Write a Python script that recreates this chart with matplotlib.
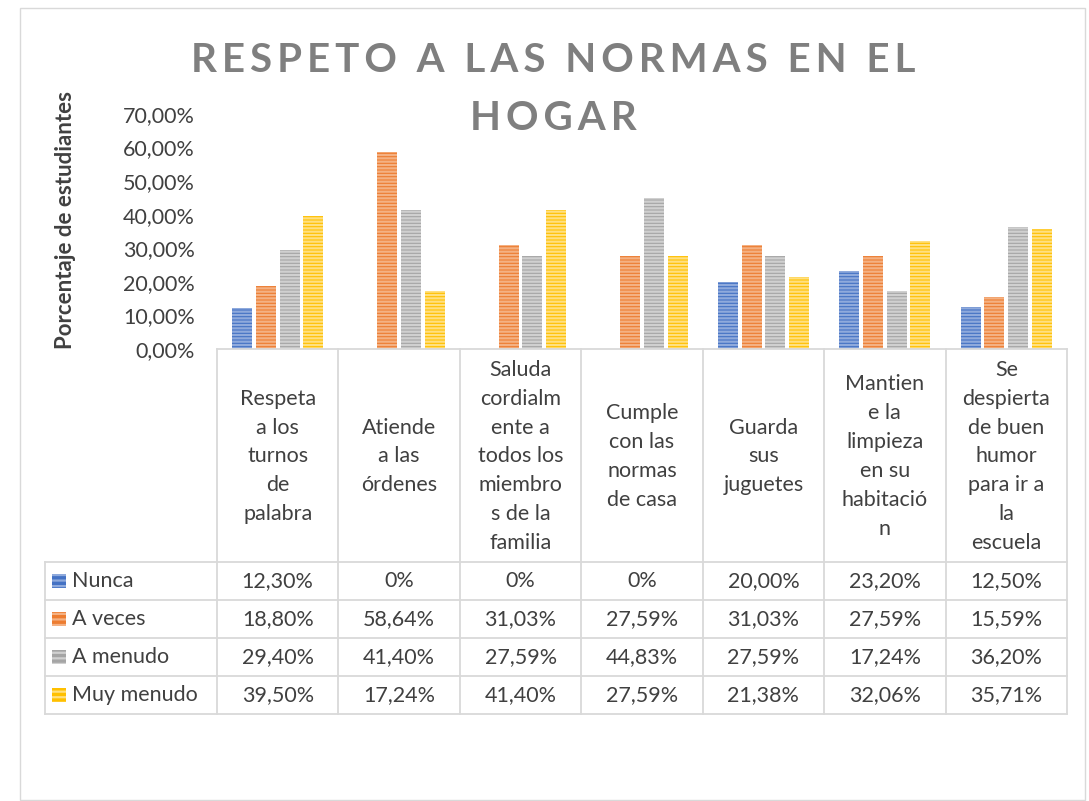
import numpy as np
import matplotlib.pyplot as plt
from matplotlib.patches import Rectangle

plt.rcParams['font.family'] = ['Lato', 'DejaVu Sans']
plt.rcParams['hatch.linewidth'] = 1.6

# datos
categorias = ["Respeta\na los\nturnos\nde\npalabra",
              "Atiende\na las\nórdenes",
              "Saluda\ncordialm\nente a\ntodos los\nmiembro\ns de la\nfamilia",
              "Cumple\ncon las\nnormas\nde casa",
              "Guarda\nsus\njuguetes",
              "Mantien\ne la\nlimpieza\nen su\nhabitació\nn",
              "Se\ndespierta\nde buen\nhumor\npara ir a\nla\nescuela"]
series = ["Nunca", "A veces", "A menudo", "Muy menudo"]
nunca = [12.30, 0, 0, 0, 20.00, 23.20, 12.50]
a_veces = [18.80, 58.64, 31.03, 27.59, 31.03, 27.59, 15.59]
a_menudo = [29.40, 41.40, 27.59, 44.83, 27.59, 17.24, 36.20]
muy_menudo = [39.50, 17.24, 41.40, 27.59, 21.38, 32.06, 35.71]
valores = [nunca, a_veces, a_menudo, muy_menudo]
colores = ["#4472C4", "#ED7D31", "#A5A5A5", "#FFC000"]
claros = ["#8FAADC", "#F4B183", "#D0D0D0", "#FFE080"]
yticks = [0, 10, 20, 30, 40, 50, 60, 70]

W, H = 1089, 801
fig = plt.figure(figsize=(W/100, H/100), dpi=100)
gris = "#D9D9D9"
texto = "#404040"
fs = 15.5

def fx(x):
    return x / W

def fy(y):
    return 1 - y / H

def linea(x0, y0, x1, y1):
    fig.add_artist(plt.Line2D([fx(x0), fx(x1)], [fy(y0), fy(y1)], color=gris, lw=1.3))

# borde exterior
fig.add_artist(Rectangle((fx(20), fy(800)), fx(1085) - fx(20), fy(8) - fy(800),
                         fill=False, edgecolor=gris, lw=1.0))

x_izq, x_der = 217, 1067
y_cero, y_top = 349, 114
ax = fig.add_axes([fx(x_izq), fy(y_cero), fx(x_der) - fx(x_izq), fy(y_top) - fy(y_cero)])
n = len(categorias)
x = np.arange(n)
paso = 0.195
ancho = 0.165
for i, (vals, c, cl) in enumerate(zip(valores, colores, claros)):
    ax.bar(x + (i - 1.5) * paso, vals, ancho, color=c, edgecolor=cl, hatch='-----', lw=0)
ax.set_xlim(-0.5, n - 0.5)
ax.set_ylim(0, 70)
ax.set_yticks(yticks)
ax.set_yticklabels([f"{v},00%" for v in yticks], fontsize=fs, color=texto)
ax.tick_params(axis='y', length=0, pad=16)
ax.set_xticks([])
for s in ax.spines.values():
    s.set_visible(False)
ax.patch.set_alpha(0)

# titulo
def espaciar(t):
    return "\u2009".join(t)

fig.text(fx(553), fy(60), espaciar("RESPETO A LAS NORMAS EN EL"), ha='center', va='center',
         fontsize=29, fontweight='bold', color="#7F7F7F")
fig.text(fx(553), fy(118), espaciar("HOGAR"), ha='center', va='center',
         fontsize=29, fontweight='bold', color="#7F7F7F")

fig.text(fx(66), fy(220), "Porcentaje de estudiantes", rotation=90, ha='center', va='center',
         fontsize=16, fontweight='bold', color=texto)

# tabla de datos
col_w = (x_der - x_izq) / n
filas = [562, 600, 638, 676, 714]
linea(x_izq, y_cero, x_der, y_cero)
for k in range(n + 1):
    linea(x_izq + k * col_w, y_cero, x_izq + k * col_w, filas[-1])
for yf in filas:
    linea(45, yf, x_der, yf)
linea(45, filas[0], 45, filas[-1])

for k, cat in enumerate(categorias):
    fig.text(fx(x_izq + (k + 0.5) * col_w), fy((y_cero + filas[0]) / 2 + 1), cat,
             ha='center', va='center', fontsize=fs, color=texto, linespacing=1.56)

def fmt(v):
    if v == 0:
        return "0%"
    return f"{v:.2f}%".replace('.', ',')

for j, (nombre, vals, c, cl) in enumerate(zip(series, valores, colores, claros)):
    yc = (filas[j] + filas[j + 1]) / 2
    fig.add_artist(Rectangle((fx(52), fy(yc + 7)), fx(14), 14 / H, transform=fig.transFigure,
                             facecolor=c, edgecolor=cl, hatch='---', lw=0))
    fig.text(fx(72), fy(yc), nombre, ha='left', va='center', fontsize=fs, color=texto)
    for k, v in enumerate(vals):
        fig.text(fx(x_izq + (k + 0.5) * col_w), fy(yc), fmt(v), ha='center', va='center',
                 fontsize=fs, color=texto)

plt.savefig("out.png", dpi=100)
